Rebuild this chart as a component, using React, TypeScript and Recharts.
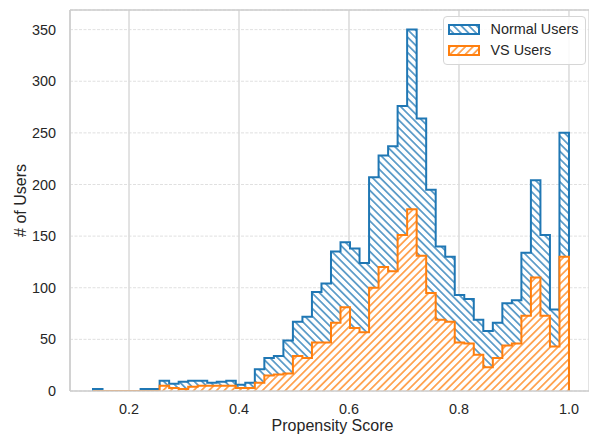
import { AreaChart, Area, XAxis, YAxis, CartesianGrid, Legend, ReferenceLine } from 'recharts';

// histogram: 50 equal bins between binStart and binEnd
const binStart = 0.1345;
const binEnd = 1.0;

const normalUsers = [
  2, 0, 0, 0, 0, 2, 2, 10, 7, 9,
  10, 10, 8, 9, 10, 6, 8, 21, 32, 34,
  49, 67, 72, 96, 104, 135, 144, 138, 124, 207,
  228, 237, 276, 350, 264, 195, 140, 130, 93, 89,
  69, 58, 66, 85, 88, 134, 204, 151, 79, 250,
];

const vsUsers = [
  0, 0, 0, 0, 0, 0, 0, 5, 3, 2,
  4, 5, 5, 5, 5, 3, 3, 8, 15, 16,
  17, 34, 32, 47, 47, 66, 81, 61, 57, 100,
  120, 116, 151, 176, 131, 95, 69, 67, 47, 46,
  35, 23, 32, 44, 46, 73, 110, 73, 43, 130,
];

const xTicks = [0.2, 0.4, 0.6, 0.8, 1.0];
const yTicks = [0, 50, 100, 150, 200, 250, 300, 350];

const BLUE = '#1f77b4';
const ORANGE = '#ff7f0e';
const FONT = '"Liberation Sans", Arial, sans-serif';
const TEXT = '#262626';

const binWidth = (binEnd - binStart) / normalUsers.length;
const histData = [
  { x: binStart, normal: 0, vs: 0 },
  ...normalUsers.map((n, i) => ({ x: binStart + i * binWidth, normal: n, vs: vsUsers[i] })),
  { x: binEnd, normal: 0, vs: 0 },
];

const series = [
  { key: 'normal', name: 'Normal Users', color: BLUE, angle: -45 },
  { key: 'vs', name: 'VS Users', color: ORANGE, angle: 45 },
];

const Hatch = ({ id, color, angle }: { id: string; color: string; angle: number }) => (
  <pattern id={id} patternUnits="userSpaceOnUse" width={5.4} height={10} patternTransform={`rotate(${angle})`}>
    <rect width={5.4} height={10} fill="#fff" />
    <line x1={2.7} y1={0} x2={2.7} y2={10} stroke={color} strokeWidth={1.3} />
  </pattern>
);

const LegendBox = () => (
  <div
    style={{
      border: '1px solid #d6d6d6',
      borderRadius: 4,
      background: 'rgba(255,255,255,0.85)',
      padding: '1.5px 0 3px 3.5px',
      width: 143,
      boxSizing: 'border-box',
      fontFamily: FONT,
      fontSize: 14.4,
      color: TEXT,
    }}
  >
    {series.map((s) => (
      <div key={s.key} style={{ display: 'flex', alignItems: 'center', height: 21 }}>
        <svg width={32} height={11} style={{ display: 'block' }}>
          <defs>
            <Hatch id={`lg-${s.key}`} color={s.color} angle={s.angle} />
          </defs>
          <rect x={1} y={1} width={30} height={9} fill={`url(#lg-${s.key})`} stroke={s.color} strokeWidth={2} />
        </svg>
        <span style={{ marginLeft: 11 }}>{s.name}</span>
      </div>
    ))}
  </div>
);

const YTitle = (props: any) => {
  const { viewBox } = props;
  const cx = viewBox.x + 20;
  const cy = viewBox.y + viewBox.height / 2;
  return (
    <text x={cx} y={cy} transform={`rotate(-90 ${cx} ${cy})`} textAnchor="middle" dominantBaseline="central" fill={TEXT} fontSize={16} fontFamily={FONT}>
      # of Users
    </text>
  );
};

const App = () => {
  return (
    <div style={{ position: 'absolute', left: 0, top: 0, width: 589, height: 435, overflow: 'hidden', background: '#fff' }}>
      <AreaChart width={589} height={435} data={histData} margin={{ top: 10, right: 0, bottom: 0, left: 0 }}>
        <defs>
          {series.map((s) => (
            <Hatch key={s.key} id={`h-${s.key}`} color={s.color} angle={s.angle} />
          ))}
        </defs>
        <CartesianGrid horizontal={false} stroke="#d0d0d0" strokeWidth={1.2} />
        <CartesianGrid vertical={false} stroke="#dcdcdc" strokeWidth={0.9} strokeDasharray="3 1.5" />
        <XAxis
          dataKey="x"
          type="number"
          domain={[0.0927, 1.0364]}
          ticks={xTicks}
          tickFormatter={(v: number) => v.toFixed(1)}
          height={44}
          tickSize={0}
          tickMargin={13}
          tickLine={false}
          axisLine={{ stroke: '#cccccc', strokeWidth: 1.5 }}
          tick={{ fill: TEXT, fontSize: 14.4, fontFamily: FONT }}
          allowDataOverflow
          label={{ value: 'Propensity Score', position: 'insideBottom', offset: 4, dx: 3, fill: TEXT, fontSize: 16, fontFamily: FONT }}
        />
        <YAxis
          type="number"
          domain={[0, 369]}
          ticks={yTicks}
          width={70}
          tickSize={0}
          tickMargin={14}
          tickLine={false}
          axisLine={{ stroke: '#cccccc', strokeWidth: 1.5 }}
          tick={{ fill: TEXT, fontSize: 14.4, fontFamily: FONT }}
          allowDataOverflow
          label={{ content: YTitle }}
        />
        <ReferenceLine y={369} stroke="#cccccc" strokeWidth={1.5} />
        {series.map((s) => (
          <Area
            key={s.key}
            type="stepAfter"
            dataKey={s.key}
            name={s.name}
            stroke={s.color}
            strokeWidth={2}
            fill={`url(#h-${s.key})`}
            fillOpacity={1}
            dot={false}
            activeDot={false}
            isAnimationActive={false}
          />
        ))}
        <Legend
          layout="vertical"
          align="center"
          verticalAlign="middle"
          content={LegendBox}
          wrapperStyle={{ left: 443, top: 16, width: 143, height: 'auto' }}
        />
      </AreaChart>
    </div>
  );
};

export default App;
